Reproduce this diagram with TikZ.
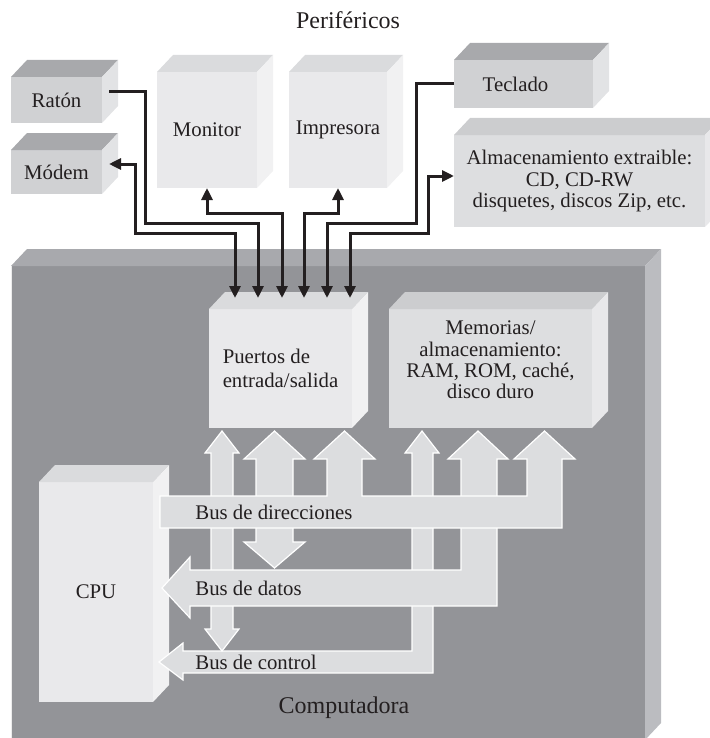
\documentclass[tikz,border=0pt]{standalone}
\usepackage{fontspec}
\setmainfont{Liberation Serif}
\usetikzlibrary{positioning,calc,arrows.meta}

\definecolor{compfront}{HTML}{939498}
\definecolor{comptop}{HTML}{A8A9AD}
\definecolor{compside}{HTML}{BBBCC0}
\definecolor{darkfront}{HTML}{D0D1D3}
\definecolor{darktop}{HTML}{A8A9AC}
\definecolor{darkside}{HTML}{E2E3E5}
\definecolor{lightfront}{HTML}{E9E9EB}
\definecolor{lighttop}{HTML}{DADBDD}
\definecolor{lightside}{HTML}{F1F1F2}
\definecolor{midfront}{HTML}{DDDEE0}
\definecolor{midtop}{HTML}{CCCDCF}
\definecolor{midside}{HTML}{E8E8EA}
\definecolor{busgray}{HTML}{DCDDDF}
\definecolor{inkblack}{HTML}{231F20}

\tikzset{
  face/.style={inner sep=0pt, outer sep=0pt, align=center, text=inkblack,
    font=\fontsize{10.4}{10.6}\selectfont},
  title/.style={inner sep=0pt, text=inkblack, font=\fontsize{12}{14}\selectfont},
  buslabel/.style={anchor=west, inner sep=0pt, text=inkblack,
    font=\fontsize{10.4}{10.6}\selectfont},
  bus/.style={fill=busgray, draw=white, line width=0.6pt, line join=miter},
  wire/.style={draw=inkblack, line width=1.5pt, line join=miter,
    >={Triangle[length=6pt,width=5.5pt]}},
}

% top and side face of a box: node, top colour, side colour
\newcommand\cubefaces[3]{%
  \fill[#2] (#1.north west) -- ++(16,-17) -- ($(#1.north east)+(16,-17)$) -- (#1.north east) -- cycle;
  \fill[#3] (#1.north east) -- ++(16,-17) -- ($(#1.south east)+(16,-17)$) -- (#1.south east) -- cycle;}

\begin{document}
\begin{tikzpicture}[x=0.5pt, y=-0.5pt]
  \useasboundingbox (0,0) rectangle (710,738);

  % computer case
  \node[face, fill=compfront, minimum width=317pt, minimum height=237pt] (comp) at (328,503) {};
  \cubefaces{comp}{comptop}{compside}
  \draw[white!85!gray, line width=0.5pt] (comp.north west) -- (comp.south west);

  % peripherals
  \node[face, fill=darkfront, minimum width=45.5pt, minimum height=23pt] (raton) at (56.5,100) {Ratón};
  \node[face, fill=darkfront, minimum width=45.5pt, minimum height=22pt] (modem) at (56.5,172) {Módem};
  \node[face, fill=lightfront, minimum width=50pt, minimum height=58pt] (monitor) at (207,130) {Monitor};
  \node[face, fill=lightfront, minimum width=49pt, minimum height=58pt] (impresora) at (338,130) {Impresora};
  \node[face, fill=darkfront, minimum width=69.5pt, minimum height=24pt] (teclado) at (523.5,84) {Teclado\hspace*{8pt}};
  \node[face, fill=midfront, minimum width=125.5pt, minimum height=46pt] (almac) at (579.5,181)
    {Almacenamiento extraible:\\CD, CD-RW\\disquetes, discos Zip, etc.};
  \cubefaces{raton}{darktop}{darkside}
  \cubefaces{modem}{darktop}{darkside}
  \cubefaces{monitor}{lighttop}{lightside}
  \cubefaces{impresora}{lighttop}{lightside}
  \cubefaces{teclado}{darktop}{darkside}
  \cubefaces{almac}{midtop}{midside}

  % inside the computer
  \node[face, fill=lightfront, minimum width=71.5pt, minimum height=59.5pt, align=left] (puertos) at (280.5,368.5)
    {Puertos de\\[1.4pt]entrada/salida};
  \node[face, fill=midfront, minimum width=101.5pt, minimum height=59.5pt] (memorias) at (490.5,368.5)
    {\begin{tabular}{@{}c@{}}Memorias/\\almacenamiento:\\RAM, ROM, caché,\\disco duro\\[6pt]\end{tabular}};
  \node[face, fill=lightfront, minimum width=57pt, minimum height=110pt] (cpu) at (96,592) {CPU};
  \cubefaces{puertos}{lighttop}{lightside}
  \cubefaces{memorias}{midtop}{midside}
  \cubefaces{cpu}{lighttop}{lightside}

  % control bus
  \draw[bus] (159,662) -- (183,643) -- (183,651) -- (412,651) -- (412,453) -- (405,453) -- (422,431)
    -- (439,453) -- (433,453) -- (433,673) -- (183,673) -- (183,680) -- cycle;
  \draw[bus] (222,431) -- (239,453) -- (233,453) -- (233,629) -- (239,629) -- (222,651)
    -- (205,629) -- (211,629) -- (211,453) -- (205,453) -- cycle;
  % data bus
  \draw[bus] (162,588) -- (190,557) -- (190,570) -- (461,570) -- (461,459) -- (448,459) -- (478,431)
    -- (508,459) -- (497,459) -- (497,606) -- (190,606) -- (190,618) -- cycle;
  \draw[bus] (274.5,431) -- (305,459) -- (293,459) -- (293,542) -- (305,542) -- (274.5,568)
    -- (244,542) -- (256,542) -- (256,459) -- (244,459) -- cycle;
  % address bus
  \draw[bus] (160,496) -- (327,496) -- (327,459) -- (314,459) -- (344.5,431) -- (375,459) -- (362,459)
    -- (362,496) -- (527,496) -- (527,459) -- (514,459) -- (544.5,431) -- (575,459) -- (562,459)
    -- (562,528) -- (160,528) -- cycle;

  \node[buslabel] (dirlabel) at (195,512) {Bus de direcciones};
  \node[buslabel] (datlabel) at (195,588) {Bus de datos};
  \node[buslabel] (ctllabel) at (195,662) {Bus de control};

  % cables to the ports
  \foreach \i/\dx in {1/26,2/49,3/73,4/95,5/118,6/141}
    \coordinate (in\i) at ($(puertos.north west)+(\dx,-11)$);

  \draw[wire,<->] ($(modem.east)+(7,-8)$) -| (135,233) -| (in1);
  \draw[wire,->] ($(raton.east)+(7,-8)$) -| (145,223) -| (in2);
  \draw[wire,<->] (monitor.south) -- ++(0,25) -| (in3);
  \draw[wire,<->] (impresora.south) -- ++(0,25) -| (in4);
  \draw[wire,->] (teclado.west) -| (416,223) -| (in5);
  \draw[wire,<->] ($(almac.west)+(0,-5)$) -| (428,233) -| (in6);

  \node[title] (perif) at (348,20) {Periféricos};
  \node[title] (complabel) at (344,708) {Computadora};
\end{tikzpicture}
\end{document}
